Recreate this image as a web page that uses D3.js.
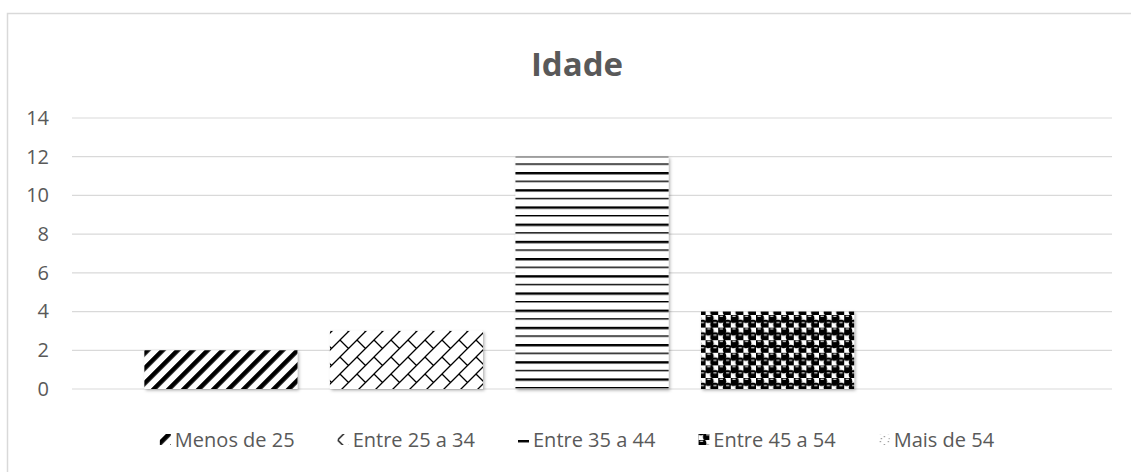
<!DOCTYPE html>
<html>
<head>
<meta charset="utf-8">
<script src="https://cdn.jsdelivr.net/npm/d3@7"></script>
<style>
  body { margin:0; background:#fff; }
  svg text { font-family:"Open Sans", sans-serif; fill:#595959; }
</style>
</head>
<body>
<div id="chart"></div>
<script>
// data
const series = ["Menos de 25","Entre 25 a 34","Entre 35 a 44","Entre 45 a 54","Mais de 54"]
const values = [2,3,12,4,0]
const yTicks = [0,2,4,6,8,10,12,14]
const patternIds = ["p-diag","p-brick","p-hlines","p-sphere","p-confetti"]

let width = 1131, height = 472,
    margin = { top:118, left:72, right:19, bottom:83 }

let svg = d3.select("#chart").append("svg")
  .attr("width",width).attr("height",height)

let defs = svg.append("defs")

// patterns
let p1 = defs.append("pattern").attr("id","p-diag").attr("patternUnits","userSpaceOnUse")
  .attr("width",10.6).attr("height",10.6).attr("patternTransform","rotate(45)")
p1.append("rect").attr("width",10.6).attr("height",10.6).attr("fill","#fff")
p1.append("rect").attr("width",4.6).attr("height",10.6).attr("fill","#000")

let p2 = defs.append("pattern").attr("id","p-brick").attr("patternUnits","userSpaceOnUse")
  .attr("width",17).attr("height",17)
p2.append("rect").attr("width",17).attr("height",17).attr("fill","#fff")
p2.append("path").attr("d","M0,17L17,0 M-2,2L2,-2 M15,19L19,15 M0,0L8.5,8.5")
  .attr("stroke","#000").attr("stroke-width",1.3).attr("fill","none")

let p3 = defs.append("pattern").attr("id","p-hlines").attr("patternUnits","userSpaceOnUse")
  .attr("width",20).attr("height",17.2)
p3.append("rect").attr("width",20).attr("height",17.2).attr("fill","#fff")
p3.append("rect").attr("y",0).attr("width",20).attr("height",2.4).attr("fill","#000")
p3.append("rect").attr("y",8.6).attr("width",20).attr("height",1.4).attr("fill","#000")

let p4 = defs.append("pattern").attr("id","p-sphere").attr("patternUnits","userSpaceOnUse")
  .attr("width",12.6).attr("height",12.6)
p4.append("rect").attr("width",12.6).attr("height",12.6).attr("fill","#fff")
;[[3.15,3.15],[9.45,9.45]].forEach(c=>{
  p4.append("circle").attr("cx",c[0]).attr("cy",c[1]).attr("r",4.9).attr("fill","#000")
  p4.append("rect").attr("x",c[0]-1.6).attr("y",c[1]-2.4).attr("width",3.2).attr("height",1).attr("fill","#fff")
})

let p5 = defs.append("pattern").attr("id","p-confetti").attr("patternUnits","userSpaceOnUse")
  .attr("width",8).attr("height",8)
p5.append("rect").attr("width",8).attr("height",8).attr("fill","#fff")
p5.append("rect").attr("x",1).attr("y",1).attr("width",1.2).attr("height",1.2).attr("fill","#888")
p5.append("rect").attr("x",5).attr("y",4).attr("width",1.2).attr("height",1.2).attr("fill","#888")
p5.append("rect").attr("x",2).attr("y",6).attr("width",1.2).attr("height",1.2).attr("fill","#888")

let shadow = defs.append("filter").attr("id","shadow").attr("x","-10%").attr("y","-10%").attr("width","130%").attr("height","130%")
shadow.append("feDropShadow").attr("dx",1.5).attr("dy",1.5).attr("stdDeviation",1.5)
  .attr("flood-color","#000").attr("flood-opacity",0.3)

// chart border
svg.append("rect").attr("x",7.5).attr("y",13.5).attr("width",1140).attr("height",470)
  .attr("fill","none").attr("stroke","#d9d9d9").attr("stroke-width",1.5)

let yScale = d3.scaleLinear().domain([0,14]).range([height-margin.bottom, margin.top])
let xScale = d3.scaleBand().domain(series)
  .range([margin.left, width-margin.right])
  .paddingInner(0.175).paddingOuter(0.39)

// gridlines
svg.append("g").selectAll("line").data(yTicks).enter().append("line")
  .attr("x1",margin.left).attr("x2",width-margin.right)
  .attr("y1",d=>yScale(d)).attr("y2",d=>yScale(d))
  .attr("stroke","#d9d9d9").attr("stroke-width",1.2)

let yAxis = d3.axisLeft(yScale).tickValues(yTicks).tickSize(0).tickPadding(0)
let yGroup = svg.append("g").attr("transform",`translate(49,0)`).call(yAxis)
yGroup.select(".domain").remove()
yGroup.selectAll("text").attr("font-size",20).attr("font-family","Open Sans").attr("fill","#595959")

// bars
svg.append("g").selectAll("rect").data(series).enter().append("rect")
  .attr("x",d=>xScale(d))
  .attr("width",xScale.bandwidth())
  .attr("y",(d,i)=>yScale(values[i]))
  .attr("height",(d,i)=>yScale(0)-yScale(values[i]))
  .attr("fill",(d,i)=>`url(#${patternIds[i]})`)
  .attr("filter",(d,i)=>values[i]>0?"url(#shadow)":null)

// title
svg.append("text").attr("x",577).attr("y",76).attr("text-anchor","middle")
  .attr("font-size",33).attr("font-weight","bold").text("Idade")

// legend
let legend = svg.append("g")
let lx = 0, items = []
series.forEach((s,i)=>{
  let g = legend.append("g")
  g.append("rect").attr("x",0).attr("y",-6).attr("width",11).attr("height",11)
    .attr("fill",`url(#${patternIds[i]})`)
  let t = g.append("text").attr("x",15).attr("y",0).attr("dy","0.35em")
    .attr("font-size",20).text(s)
  let w = 15 + t.node().getComputedTextLength()
  items.push({g:g, x:lx})
  lx += w + 43
})
let total = lx - 43
let start = 577 - total/2
items.forEach(it=>it.g.attr("transform",`translate(${start+it.x},440)`))
</script>
</body>
</html>
